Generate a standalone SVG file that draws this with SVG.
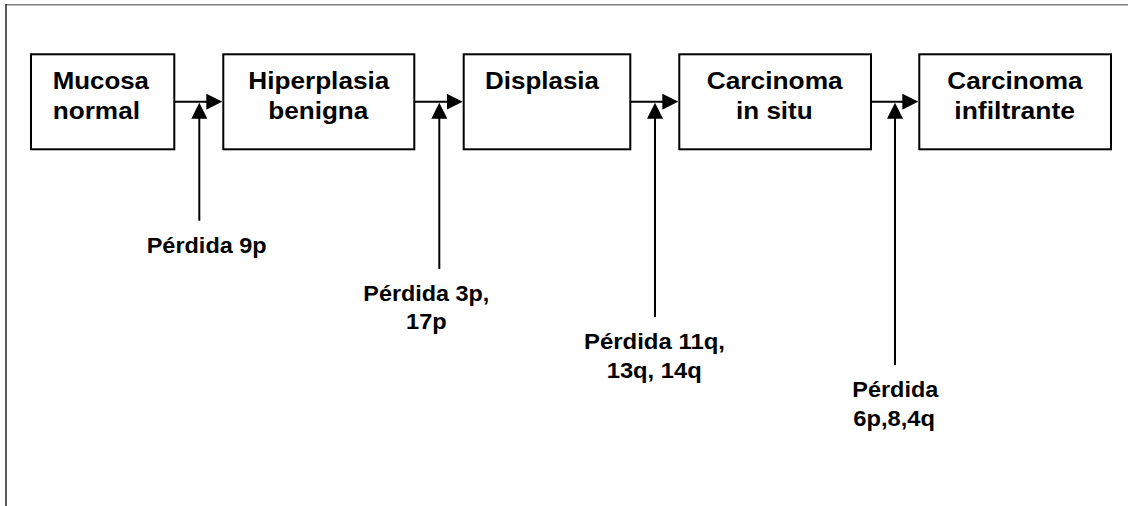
<svg xmlns="http://www.w3.org/2000/svg" width="1128" height="506" viewBox="0 0 1128 506">
<style>
.box{fill:#fff;stroke:#000;stroke-width:2}
.conn{stroke:#000;stroke-width:2;fill:none}
.bt{font-family:"Liberation Sans",Arial,Helvetica,sans-serif;font-weight:bold;font-size:23.5px;fill:#000}
.lt{font-family:"Liberation Sans",Arial,Helvetica,sans-serif;font-weight:bold;font-size:22px;fill:#000}
</style>
<defs>
<marker id="ah" markerUnits="userSpaceOnUse" markerWidth="16" markerHeight="16" refX="2" refY="8" orient="auto">
<path d="M0,0 L16,8 L0,16 z" fill="#000"/>
</marker>
</defs>
<rect width="1128" height="506" fill="#fff"/>
<g id="frame">
<line x1="6" y1="4.75" x2="1128" y2="4.75" stroke="#808080" stroke-width="1.5"/>
<line x1="6" y1="4" x2="6" y2="506" stroke="#222" stroke-width="1.5"/>
</g>
<g id="connectors">
<line class="conn" x1="175" y1="101.7" x2="208.3" y2="101.7" marker-end="url(#ah)"/>
<line class="conn" x1="415" y1="101.7" x2="448.7" y2="101.7" marker-end="url(#ah)"/>
<line class="conn" x1="631" y1="101.7" x2="664.3" y2="101.7" marker-end="url(#ah)"/>
<line class="conn" x1="871.5" y1="101.7" x2="904.3" y2="101.7" marker-end="url(#ah)"/>
<line class="conn" x1="199.3" y1="220.7" x2="199.3" y2="116.7" marker-end="url(#ah)"/>
<line class="conn" x1="439.3" y1="269" x2="439.3" y2="116.7" marker-end="url(#ah)"/>
<line class="conn" x1="655" y1="317" x2="655" y2="116.7" marker-end="url(#ah)"/>
<line class="conn" x1="895" y1="365" x2="895" y2="116.7" marker-end="url(#ah)"/>
</g>
<g id="n1">
<rect class="box" x="31" y="54.3" width="143.3" height="95"/>
<text class="bt" x="52.7" y="88.6" textLength="96.3" lengthAdjust="spacingAndGlyphs">Mucosa</text>
<text class="bt" x="52.7" y="118.6" textLength="87.3" lengthAdjust="spacingAndGlyphs">normal</text>
</g>
<g id="n2">
<rect class="box" x="223.3" y="54.3" width="191" height="95"/>
<text class="bt" x="248.3" y="88.6" textLength="141" lengthAdjust="spacingAndGlyphs">Hiperplasia</text>
<text class="bt" x="268.3" y="118.6" textLength="100" lengthAdjust="spacingAndGlyphs">benigna</text>
</g>
<g id="n3">
<rect class="box" x="463.7" y="54.3" width="166.6" height="95"/>
<text class="bt" x="485" y="88.6" textLength="114" lengthAdjust="spacingAndGlyphs">Displasia</text>
</g>
<g id="n4">
<rect class="box" x="679.3" y="54.3" width="191.7" height="95"/>
<text class="bt" x="706.7" y="88.6" textLength="136" lengthAdjust="spacingAndGlyphs">Carcinoma</text>
<text class="bt" x="736" y="118.6" textLength="76.7" lengthAdjust="spacingAndGlyphs">in situ</text>
</g>
<g id="n5">
<rect class="box" x="919.3" y="54.3" width="191.7" height="95"/>
<text class="bt" x="947.3" y="88.6" textLength="135.4" lengthAdjust="spacingAndGlyphs">Carcinoma</text>
<text class="bt" x="954.3" y="118.6" textLength="120.7" lengthAdjust="spacingAndGlyphs">infiltrante</text>
</g>
<g id="l1">
<text class="lt" x="146.7" y="253.3" textLength="120" lengthAdjust="spacingAndGlyphs">Pérdida 9p</text>
</g>
<g id="l2">
<text class="lt" x="363.3" y="300.7" textLength="126" lengthAdjust="spacingAndGlyphs">Pérdida 3p,</text>
<text class="lt" x="406" y="329" textLength="40.7" lengthAdjust="spacingAndGlyphs">17p</text>
</g>
<g id="l3">
<text class="lt" x="584" y="349.3" textLength="141" lengthAdjust="spacingAndGlyphs">Pérdida 11q,</text>
<text class="lt" x="606.7" y="378.3" textLength="95" lengthAdjust="spacingAndGlyphs">13q, 14q</text>
</g>
<g id="l4">
<text class="lt" x="852.3" y="396.7" textLength="86" lengthAdjust="spacingAndGlyphs">Pérdida</text>
<text class="lt" x="853.3" y="425.7" textLength="81.7" lengthAdjust="spacingAndGlyphs">6p,8,4q</text>
</g>
</svg>
